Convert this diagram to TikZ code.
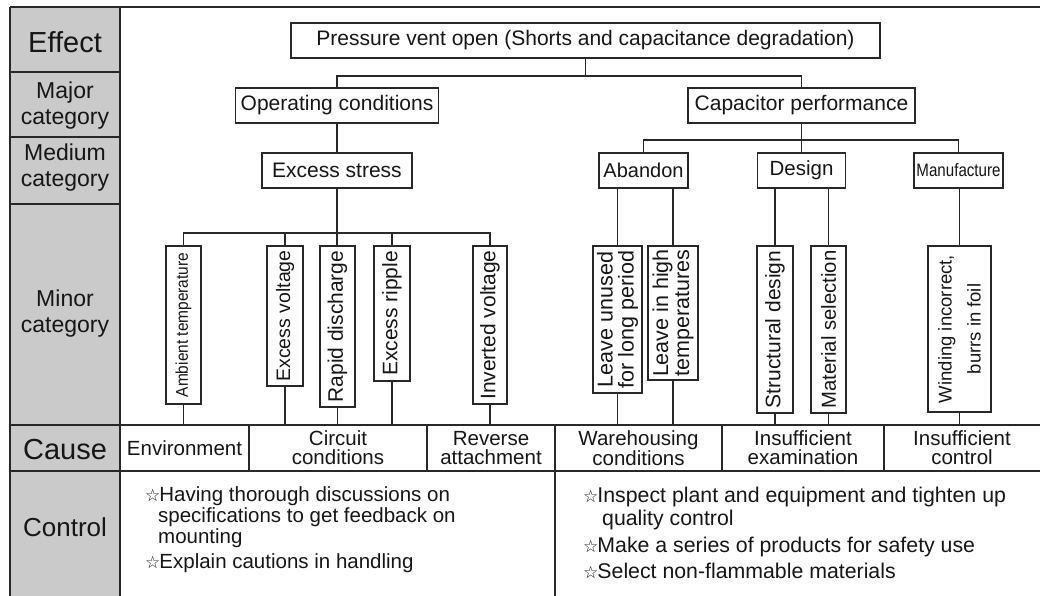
\documentclass[tikz,border=0pt]{standalone}
\usepackage{fontspec}
\setmainfont{Liberation Sans}
\newfontfamily\symf{DejaVu Sans}
\newcommand\fsz[1]{\fontsize{#1}{#1}\selectfont}
\newcommand\fszb[2]{\fontsize{#1}{#2}\selectfont}
\newcommand\stsym{{\symf\fsz{17}\raisebox{0.5pt}{☆}}\hspace{-1pt}}
\definecolor{lc}{RGB}{40,40,40}
\definecolor{tc}{RGB}{22,22,22}
\definecolor{gr}{RGB}{202,202,202}
\begin{document}
\begin{tikzpicture}[x=1pt,y=-1pt,
  bx/.style={draw=lc, line width=1.4pt, inner sep=0pt, font=\fsz{21}, text=tc, align=center},
  vbx/.style={bx, rotate=90},
  lbl/.style={font=\fszb{23}{26}, align=center, inner sep=0pt, text=tc},
  cell/.style={font=\fszb{20.5}{19}, align=center, inner sep=0pt, text=tc},
  ctl/.style={anchor=west, inner sep=0pt, text=tc, text height=15pt, text depth=4pt},
  ln/.style={draw=lc, line width=1.4pt},
  fr/.style={draw=lc, line width=1.6pt}]
\useasboundingbox (0,0) rectangle (1040,596);
\fill[white] (0,0) rectangle (1040,596);
% grey label column
\fill[gr] (10,7) rectangle (120,596);
\draw[fr] (10,7) -- (10,596);
\draw[fr] (120,7) -- (120,596);
\draw[draw=lc, line width=2.6pt] (10,7) -- (1040,7);
\draw[fr] (10,72) -- (120,72);
\draw[fr] (10,137) -- (120,137);
\draw[fr] (10,204) -- (120,204);
\draw[fr] (10,425) -- (1040,425);
\draw[fr] (10,471) -- (1040,471);
\draw[fr] (249,425) -- (249,471);
\draw[fr] (427,425) -- (427,471);
\draw[fr] (555,425) -- (555,596);
\draw[fr] (722,425) -- (722,471);
\draw[fr] (884,425) -- (884,471);

\node[lbl, font=\fsz{29}] (lEff) at (65,42) {Effect};
\node[lbl] (lMaj) at (65,106) {Major\\category};
\node[lbl] (lMed) at (65,168) {Medium\\category};
\node[lbl] (lMin) at (65,314) {Minor\\category};
\node[lbl, font=\fsz{29}] (lCau) at (65,450) {Cause};
\node[lbl, font=\fsz{26}] (lCtl) at (65,527) {Control};

% effect and major
\node[bx, minimum width=589pt, minimum height=35pt] (eff) at (585.5,40.5) {Pressure vent open (Shorts and capacitance degradation)};
\node[bx, minimum width=203pt, minimum height=35pt] (op) at (337,105.5) {Operating conditions};
\node[bx, minimum width=227pt, minimum height=35pt] (cp) at (801.5,105.5) {Capacitor performance};
% medium
\node[bx, minimum width=150pt, minimum height=35pt] (es) at (337,170.5) {Excess stress};
\node[bx, minimum width=89pt, minimum height=35pt, font=\fsz{20}] (ab) at (643.5,170.5) {Abandon};
\node[bx, minimum width=88pt, minimum height=35pt, font=\fsz{20.5}] (ds) at (801.5,170.5) {Design};
\node[bx, minimum width=89pt, minimum height=35pt, font=\fsz{18}] (mf) at (958.5,170.5) {\scalebox{0.84}[1]{Manufacture}};
% minor
\node[vbx, minimum width=158pt, minimum height=35pt, font=\fsz{17}] (amb) at (183.5,325) {\scalebox{0.91}[1]{Ambient temperature}};
\node[vbx, minimum width=140pt, minimum height=36pt, font=\fsz{19.5}] (ev) at (285,316) {Excess voltage};
\node[vbx, minimum width=161pt, minimum height=35pt] (rd) at (337.5,326.5) {Rapid discharge};
\node[vbx, minimum width=135pt, minimum height=36pt] (er) at (392,313.5) {Excess ripple};
\node[vbx, minimum width=158pt, minimum height=34pt] (iv) at (490,325) {Inverted voltage};
\node[vbx, minimum width=147pt, minimum height=49pt, font=\fszb{21.5}{21}] (lu) at (617.5,319.5) {Leave unused\\for long period};
\node[vbx, minimum width=134pt, minimum height=50pt, font=\fszb{21.5}{21}] (lh) at (673,313) {Leave in high\\temperatures};
\node[vbx, minimum width=167pt, minimum height=36pt] (sd) at (775,329.5) {Structural design};
\node[vbx, minimum width=167pt, minimum height=35pt, font=\fsz{20.3}] (ms) at (828.5,329.5) {Material selection};
\node[vbx, minimum width=166pt, minimum height=63pt, font=\fszb{18.5}{29}] (wi) at (959.5,329) {Winding incorrect,\\burrs in foil};
% cause cells
\node[cell, minimum width=129pt, minimum height=46pt] (env) at (184.5,448) {Environment};
\node[cell, minimum width=178pt, minimum height=46pt] (circ) at (338,448) {Circuit\\conditions};
\node[cell, minimum width=128pt, minimum height=46pt] (rev) at (491,448) {Reverse\\attachment};
\node[cell, minimum width=167pt, minimum height=46pt] (war) at (638.5,448) {Warehousing\\conditions};
\node[cell, minimum width=162pt, minimum height=46pt] (iex) at (803,448) {Insufficient\\examination};
\node[cell, minimum width=156pt, minimum height=46pt] (ictl) at (962,448) {Insufficient\\control};
% control texts
\node[ctl, font=\fsz{20.5}] (c1) at (145,496) {\stsym Having thorough discussions on};
\node[ctl, font=\fsz{20.5}] (c2) at (158,517) {specifications to get feedback on};
\node[ctl, font=\fsz{20.5}] (c3) at (158,538) {mounting};
\node[ctl, font=\fsz{20.5}] (c4) at (145,563) {\stsym Explain cautions in handling};
\node[ctl, font=\fsz{21.3}] (d1) at (583,497) {\stsym Inspect plant and equipment and tighten up};
\node[ctl, font=\fsz{21.3}] (d2) at (602,520) {quality control};
\node[ctl, font=\fsz{21.3}] (d3) at (583,547) {\stsym Make a series of products for safety use};
\node[ctl, font=\fsz{21.3}] (d4) at (583,573) {\stsym Select non-flammable materials};

% connectors
\coordinate (j1) at (0,76);
\coordinate (j2) at (0,140);
\coordinate (j3) at (0,233);
\draw[ln] (eff.south) -- (eff.south |- j1);
\draw[ln] (op.north) |- (j1 -| cp.north) -- (cp.north);
\draw[ln] (op.south) -- (es.north);
\draw[ln] (cp.south) -- (cp.south |- j2);
\draw[ln] (ab.north) |- (j2 -| mf.north) -- (mf.north);
\draw[ln] (cp.south |- j2) -- (ds.north);
\draw[ln] (es.south) -- (es.south |- rd.east);
\draw[ln] (amb.east) |- (j3 -| iv.east) -- (iv.east);
\draw[ln] (ev.east) -- (ev.east |- j3);
\draw[ln] (er.east) -- (er.east |- j3);
\draw[ln] (ab.south -| lu.east) -- (lu.east);
\draw[ln] (ab.south -| lh.east) -- (lh.east);
\draw[ln] (ds.south -| sd.east) -- (sd.east);
\draw[ln] (ds.south -| ms.east) -- (ms.east);
\draw[ln] (mf.south -| wi.east) -- (wi.east);
% to causes
\draw[ln] (amb.west) -- (amb.west |- env.north);
\draw[ln] (ev.west) -- (ev.west |- circ.north);
\draw[ln] (rd.west) -- (rd.west |- circ.north);
\draw[ln] (er.west) -- (er.west |- circ.north);
\draw[ln] (iv.west) -- (iv.west |- rev.north);
\draw[ln] (lu.west) -- (lu.west |- war.north);
\draw[ln] (lh.west) -- (lh.west |- war.north);
\draw[ln] (sd.west) -- (sd.west |- iex.north);
\draw[ln] (ms.west) -- (ms.west |- iex.north);
\draw[ln] (wi.west) -- (wi.west |- ictl.north);
\end{tikzpicture}
\end{document}
